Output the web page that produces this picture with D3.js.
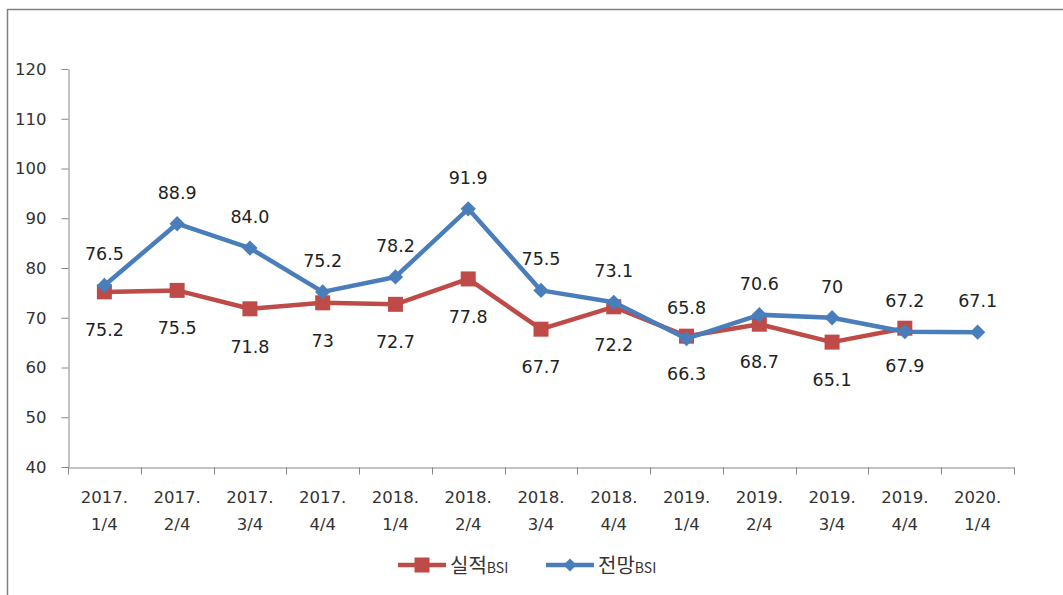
<!DOCTYPE html>
<html>
<head>
  <meta http-equiv="Content-Type" content="text/html;charset=utf-8" />
  <style type="text/css">
    body { margin: 0; background: #fff; }
    text { font-family: "DejaVu Sans", "Noto Sans CJK KR", sans-serif; }
    .tick text { font-size: 16.5px; fill: #333; }
    .domain, .tick line { stroke: #868686; }
  </style>
</head>
<body>
  <div id="svgContainer"></div>
  <script src="https://d3js.org/d3.v7.min.js"></script>
  <script type="text/javascript">
    var w = 1063, h = 595;

    // data
    var years = ["2017.", "2017.", "2017.", "2017.", "2018.", "2018.", "2018.", "2018.",
                 "2019.", "2019.", "2019.", "2019.", "2020."];
    var quarters = ["1/4", "2/4", "3/4", "4/4", "1/4", "2/4", "3/4", "4/4",
                    "1/4", "2/4", "3/4", "4/4", "1/4"];
    var actual = [75.2, 75.5, 71.8, 73, 72.7, 77.8, 67.7, 72.2, 66.3, 68.7, 65.1, 67.9];
    var actualLabels = ["75.2", "75.5", "71.8", "73", "72.7", "77.8", "67.7", "72.2", "66.3", "68.7", "65.1", "67.9"];
    var outlook = [76.5, 88.9, 84.0, 75.2, 78.2, 91.9, 75.5, 73.1, 65.8, 70.6, 70, 67.2, 67.1];
    var outlookLabels = ["76.5", "88.9", "84.0", "75.2", "78.2", "91.9", "75.5", "73.1", "65.8", "70.6", "70", "67.2", "67.1"];
    var yTicks = [40, 50, 60, 70, 80, 90, 100, 110, 120];

    var red = "#be4b48", blue = "#4a7ebb";

    var svg = d3.select("#svgContainer")
      .append("svg")
      .attr("width", w)
      .attr("height", h);

    // frame
    svg.append("path")
      .attr("d", "M7.5," + h + "V9.5H" + w)
      .attr("fill", "none")
      .attr("stroke", "#808080")
      .attr("stroke-width", 1.5);

    var cats = d3.range(years.length);
    var xScale = d3.scaleBand().domain(cats).range([68, 1014]);
    var yScale = d3.scaleLinear().domain([40, 120]).range([467, 69]);
    var cx = function (i) { return xScale(i) + xScale.bandwidth() / 2; };

    // y axis
    var yAxis = svg.append("g")
      .attr("transform", "translate(68.5,0)")
      .call(d3.axisLeft(yScale).tickValues(yTicks).tickSize(7).tickSizeOuter(0).tickPadding(15));
    yAxis.selectAll(".tick line").attr("x1", -7).attr("x2", 0);
    yAxis.selectAll(".tick text").attr("x", -22);

    // x axis
    var xAxis = svg.append("g")
      .attr("transform", "translate(0,467.5)")
      .call(d3.axisBottom(xScale).tickSize(0).tickSizeOuter(0).tickFormat(""));
    xAxis.selectAll("line.bnd")
      .data(d3.range(years.length + 1))
      .enter()
      .append("line")
      .attr("class", "bnd")
      .attr("x1", function (i) { return Math.round(68 + i * xScale.bandwidth()) + 0.5; })
      .attr("x2", function (i) { return Math.round(68 + i * xScale.bandwidth()) + 0.5; })
      .attr("y1", 0).attr("y2", 7)
      .attr("stroke", "#868686");

    var xl = svg.append("g").selectAll("text")
      .data(cats)
      .enter()
      .append("text")
      .attr("x", cx)
      .attr("text-anchor", "middle")
      .attr("font-size", 16.5)
      .attr("fill", "#333");
    xl.append("tspan").attr("x", cx).attr("y", 503).text(function (i) { return years[i]; });
    xl.append("tspan").attr("x", cx).attr("y", 530).text(function (i) { return quarters[i]; });

    var line = d3.line()
      .x(function (d, i) { return cx(i); })
      .y(function (d) { return yScale(d); });

    // 실적 series
    svg.append("path")
      .attr("d", line(actual))
      .attr("fill", "none")
      .attr("stroke", red)
      .attr("stroke-width", 4.5)
      .attr("stroke-linejoin", "round");
    svg.selectAll("rect.act")
      .data(actual)
      .enter()
      .append("rect")
      .attr("class", "act")
      .attr("x", function (d, i) { return cx(i) - 7.5; })
      .attr("y", function (d) { return yScale(d) - 7.5; })
      .attr("width", 15).attr("height", 15)
      .attr("fill", red);

    // 전망 series
    svg.append("path")
      .attr("d", line(outlook))
      .attr("fill", "none")
      .attr("stroke", blue)
      .attr("stroke-width", 4.5)
      .attr("stroke-linejoin", "round");
    svg.selectAll("path.out")
      .data(outlook)
      .enter()
      .append("path")
      .attr("class", "out")
      .attr("d", d3.symbol().type(d3.symbolDiamond2).size(150))
      .attr("transform", function (d, i) { return "translate(" + cx(i) + "," + yScale(d) + ")"; })
      .attr("fill", blue);

    // data labels
    svg.selectAll("text.la")
      .data(actual)
      .enter()
      .append("text")
      .attr("class", "la")
      .attr("x", function (d, i) { return cx(i); })
      .attr("y", function (d) { return yScale(d) + 44; })
      .attr("text-anchor", "middle")
      .attr("font-size", 17.5)
      .attr("fill", "#222")
      .text(function (d, i) { return actualLabels[i]; });
    svg.selectAll("text.lo")
      .data(outlook)
      .enter()
      .append("text")
      .attr("class", "lo")
      .attr("x", function (d, i) { return cx(i); })
      .attr("y", function (d) { return yScale(d) - 25; })
      .attr("text-anchor", "middle")
      .attr("font-size", 17.5)
      .attr("fill", "#222")
      .text(function (d, i) { return outlookLabels[i]; });

    // legend
    var legend = [
      { name: "실적", color: red, x: 398 },
      { name: "전망", color: blue, x: 546 }
    ];
    var lg = svg.selectAll("g.lg")
      .data(legend)
      .enter()
      .append("g")
      .attr("class", "lg")
      .attr("transform", function (d) { return "translate(" + d.x + ",565)"; });
    lg.append("line")
      .attr("x1", 0).attr("x2", 48)
      .attr("stroke", function (d) { return d.color; })
      .attr("stroke-width", 4.5);
    lg.filter(function (d, i) { return i === 0; })
      .append("rect")
      .attr("x", 16.5).attr("y", -7.5).attr("width", 15).attr("height", 15)
      .attr("fill", red);
    lg.filter(function (d, i) { return i === 1; })
      .append("path")
      .attr("d", d3.symbol().type(d3.symbolDiamond2).size(110))
      .attr("transform", "translate(24,0)")
      .attr("fill", blue);
    var lt = lg.append("text")
      .attr("x", 52).attr("y", 8)
      .attr("fill", "#333");
    lt.append("tspan").attr("font-family", "Noto Sans CJK KR").attr("font-size", 20).text(function (d) { return d.name; });
    lt.append("tspan").attr("font-family", "Noto Sans CJK KR").attr("font-size", 14).text("BSI");
  </script>
</body>
</html>
